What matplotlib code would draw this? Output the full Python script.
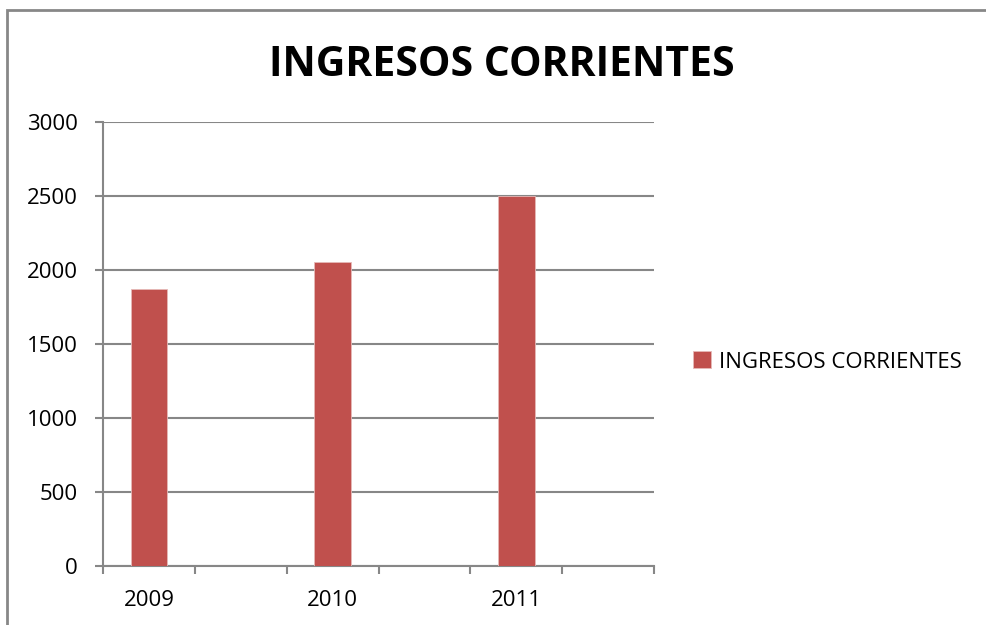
"""
Gráfico de barras: ingresos corrientes por año (estilo Excel).
"""

import numpy as np
import matplotlib

matplotlib.use('Agg')
import matplotlib.pyplot as plt
from matplotlib.patches import Rectangle

# Datos
categorias = ['2009', '', '2010', '', '2011', '']
ingresos = [1870, np.nan, 2055, np.nan, 2500, np.nan]
serie = 'INGRESOS CORRIENTES'
titulo = 'INGRESOS CORRIENTES'
y_ticks = [0, 500, 1000, 1500, 2000, 2500, 3000]

color_barra = '#C0504D'
color_gris = '#878787'

plt.rcParams['font.family'] = ['Open Sans', 'DejaVu Sans']

fig = plt.figure(figsize=(9.86, 6.25), dpi=100)
ax = fig.add_axes([103 / 986, 1 - 566 / 625, (654 - 103) / 986, (566 - 122) / 625])

# Marco exterior del gráfico
fig.patches.append(Rectangle((7 / 986, -0.05), 1.2, 1 - 10 / 625 + 0.05,
                             transform=fig.transFigure, fill=False,
                             edgecolor=color_gris, linewidth=2))

x = np.arange(len(categorias))
ax.bar(x, ingresos, width=0.4, color=color_barra, edgecolor='#E6B9B8',
       linewidth=0.6, label=serie, zorder=3)

ax.set_xlim(-0.5, len(categorias) - 0.5)
ax.set_ylim(0, 3000)
ax.set_yticks(y_ticks)
ax.set_yticklabels([str(v) for v in y_ticks], fontsize=16)

# Marcas entre categorías, etiquetas en el centro
ax.set_xticks(np.arange(len(categorias) + 1) - 0.5)
ax.set_xticklabels([])
ax.set_xticks(x, minor=True)
ax.set_xticklabels(categorias, minor=True, fontsize=16)
ax.tick_params(axis='x', which='major', length=6, color=color_gris, width=1.5, direction='out')
ax.tick_params(axis='x', which='minor', length=0, pad=17)
ax.tick_params(axis='y', length=6, color=color_gris, width=1.5, pad=12)

ax.grid(axis='y', color=color_gris, linewidth=1.5, zorder=0)
for lado in ['top', 'right']:
    ax.spines[lado].set_visible(False)
for lado in ['left', 'bottom']:
    ax.spines[lado].set_color(color_gris)
    ax.spines[lado].set_linewidth(1.5)

fig.text(502 / 986, 1 - 65 / 625, titulo, ha='center', va='center',
         fontsize=29.5, fontweight='bold')

ax.legend(loc='center left', bbox_to_anchor=(673 / 986, 1 - 362 / 625),
          bbox_transform=fig.transFigure, frameon=False, fontsize=16,
          handlelength=0.8, handleheight=0.8, handletextpad=0.35)

fig.savefig('out.png', dpi=100)
